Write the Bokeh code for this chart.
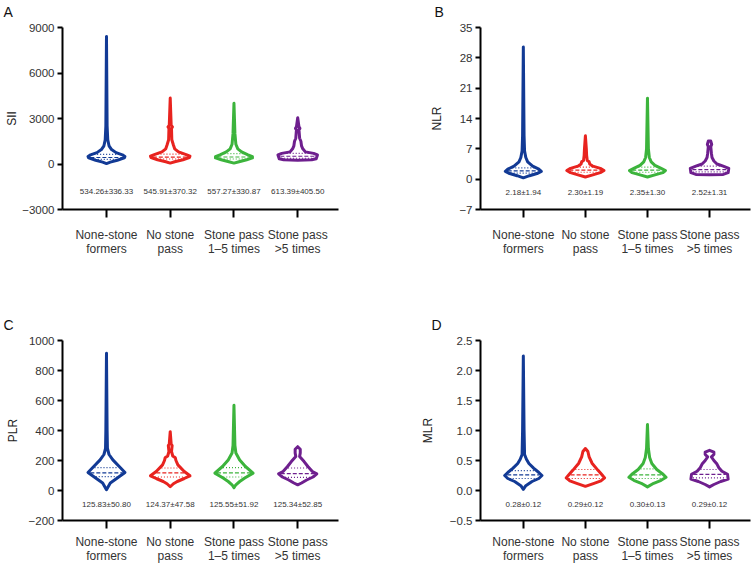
import numpy as np
from bokeh.plotting import figure
from bokeh.layouts import gridplot
from bokeh.models import FixedTicker, Range1d, Title
from bokeh.core.properties import value
from bokeh.embed import file_html
from bokeh.resources import INLINE

# ---------------- data ----------------
GROUPS = ["None-stone\nformers", "No stone\npass", "Stone pass\n1\u20135 times", "Stone pass\n>5 times"]
COLORS = ["#123a95", "#e8231f", "#3cb43c", "#6e1f8e"]

# Panel A : SII  (violin outline: value levels, relative half widths)
SII_LEVELS = [
    [30, 120, 250, 400, 500, 600, 750, 950, 1200, 1600, 2500, 8400],
    [60, 150, 280, 420, 520, 620, 800, 1000, 1250, 1600, 2350, 2450, 2550, 4350],
    [60, 150, 280, 400, 480, 600, 800, 1000, 1300, 2000, 4000],
    [250, 280, 350, 600, 700, 800, 1000, 1200, 1500, 1700, 2250, 2350, 2450, 3050],
]
SII_WIDTHS = [
    [0, 0.06, 0.17, 0.28, 0.29, 0.25, 0.15, 0.08, 0.04, 0.02, 0.01, 0],
    [0, 0.07, 0.2, 0.3, 0.31, 0.25, 0.13, 0.07, 0.05, 0.025, 0.02, 0.035, 0.015, 0],
    [0, 0.08, 0.2, 0.29, 0.29, 0.22, 0.12, 0.06, 0.03, 0.015, 0],
    [0, 0.22, 0.29, 0.31, 0.25, 0.12, 0.08, 0.06, 0.05, 0.03, 0.02, 0.035, 0.02, 0],
]
SII_QUART = [[310, 430, 640], [330, 450, 650], [330, 460, 680], [380, 510, 700]]
SII_TEXT = ["534.26\u00b1336.33", "545.91\u00b1370.32", "557.27\u00b1330.87", "613.39\u00b1405.50"]
SII_TICKS = [-3000, 0, 3000, 6000, 9000]

# Panel B : NLR
NLR_LEVELS = [
    [0.3, 0.8, 1.3, 1.8, 2.3, 3.0, 4.0, 5.0, 6.5, 10, 30.5],
    [0.5, 1.0, 1.5, 2.0, 2.5, 3.0, 3.5, 4.0, 4.3, 5.5, 7.0, 10.0],
    [0.5, 1.0, 1.5, 2.0, 2.5, 3.2, 4.0, 5.0, 7.0, 18.7],
    [1.0, 1.1, 1.5, 2.5, 3.0, 3.5, 4.2, 5.0, 6.0, 7.5, 8.0, 8.8],
]
NLR_WIDTHS = [
    [0, 0.1, 0.22, 0.29, 0.25, 0.15, 0.07, 0.04, 0.02, 0.012, 0],
    [0, 0.12, 0.24, 0.3, 0.24, 0.12, 0.07, 0.06, 0.03, 0.02, 0.015, 0],
    [0, 0.12, 0.25, 0.29, 0.22, 0.12, 0.06, 0.03, 0.015, 0],
    [0, 0.22, 0.3, 0.31, 0.22, 0.12, 0.07, 0.04, 0.03, 0.02, 0.035, 0.02],
]
NLR_QUART = [[1.4, 1.9, 2.6], [1.6, 2.1, 2.8], [1.6, 2.1, 2.8], [1.7, 2.2, 3.0]]
NLR_TEXT = ["2.18\u00b11.94", "2.30\u00b11.19", "2.35\u00b11.30", "2.52\u00b11.31"]
NLR_TICKS = [-7, 0, 7, 14, 21, 28, 35]

# Panel C : PLR
PLR_LEVELS = [
    [5, 20, 50, 83, 120, 160, 204, 240, 280, 400, 915],
    [25, 45, 60, 80, 98, 127, 171, 200, 218, 230, 260, 300, 310, 392],
    [18, 38, 60, 83, 116, 160, 204, 250, 300, 568],
    [38, 50, 70, 90, 111, 127, 160, 193, 226, 250, 275, 292],
]
PLR_WIDTHS = [
    [0, 0.02, 0.06, 0.17, 0.29, 0.2, 0.1, 0.04, 0.015, 0.01, 0],
    [0, 0.05, 0.11, 0.22, 0.31, 0.22, 0.12, 0.09, 0.08, 0.04, 0.02, 0.03, 0.015, 0],
    [0, 0.03, 0.09, 0.17, 0.3, 0.18, 0.09, 0.03, 0.015, 0],
    [0, 0.06, 0.14, 0.24, 0.3, 0.23, 0.16, 0.1, 0.03, 0.04, 0.04, 0],
]
PLR_QUART = [[92, 118, 152], [90, 118, 150], [90, 117, 152], [88, 112, 150]]
PLR_TEXT = ["125.83\u00b150.80", "124.37\u00b147.58", "125.55\u00b151.92", "125.34\u00b152.85"]
PLR_TICKS = [-200, 0, 200, 400, 600, 800, 1000]

# Panel D : MLR
MLR_LEVELS = [
    [0.02, 0.08, 0.15, 0.2, 0.25, 0.3, 0.37, 0.45, 0.52, 0.6, 1.0, 2.24],
    [0.07, 0.12, 0.16, 0.21, 0.27, 0.34, 0.45, 0.56, 0.65, 0.7],
    [0.06, 0.12, 0.17, 0.22, 0.28, 0.35, 0.45, 0.55, 0.7, 1.1],
    [0.06, 0.1, 0.15, 0.19, 0.27, 0.32, 0.38, 0.44, 0.5, 0.56, 0.6, 0.64, 0.67],
]
MLR_WIDTHS = [
    [0, 0.04, 0.14, 0.25, 0.3, 0.25, 0.17, 0.09, 0.05, 0.02, 0.012, 0],
    [0, 0.14, 0.25, 0.31, 0.26, 0.2, 0.11, 0.06, 0.04, 0],
    [0, 0.1, 0.22, 0.3, 0.24, 0.15, 0.07, 0.035, 0.015, 0],
    [0, 0.07, 0.18, 0.3, 0.29, 0.2, 0.15, 0.12, 0.07, 0.03, 0.07, 0.07, 0],
]
MLR_QUART = [[0.2, 0.26, 0.33], [0.2, 0.26, 0.35], [0.2, 0.26, 0.36], [0.21, 0.27, 0.35]]
MLR_TEXT = ["0.28\u00b10.12", "0.29\u00b10.12", "0.30\u00b10.13", "0.29\u00b10.12"]
MLR_TICKS = [-0.5, 0.0, 0.5, 1.0, 1.5, 2.0, 2.5]

FONT = "Liberation Sans"
W1, W2 = 417, 336
H1, H2 = 313, 253


def fmt(v, dec):
    s = f"{abs(v):.{dec}f}"
    return ("\u2212" + s) if v < 0 else s


def make_panel(letter, ylabel, levels, widths, quart, texts, ticks, text_y, dec,
               width, height, xr, mb_left, mb_right, mb_top, mb_bottom, lab_standoff,
               title_off, xlab_standoff):
    p = figure(width=width, height=height, output_backend="svg", toolbar_location=None,
               x_range=Range1d(*xr), y_range=Range1d(ticks[0], ticks[-1]),
               min_border_left=mb_left, min_border_right=mb_right,
               min_border_top=mb_top, min_border_bottom=mb_bottom)
    p.outline_line_color = None
    p.grid.grid_line_color = None
    p.background_fill_color = "white"

    # panel letter (default title) plus a small spacer title that lifts it
    p.title.text = letter
    p.title.text_font = FONT
    p.title.text_font_size = "14px"
    p.title.text_font_style = "normal"
    p.title.text_color = "#111111"
    p.title.align = "left"
    p.title.vertical_align = "bottom"
    p.title.offset = title_off
    p.title.standoff = 0
    spacer = Title(text=" ", text_font_size="6px", standoff=0)
    p.add_layout(spacer, "above")

    centers = [1, 2, 3, 4]
    for c, lv, wd, q, col in zip(centers, levels, widths, quart, COLORS):
        lv = np.asarray(lv, float)
        wd = np.asarray(wd, float)
        xs = np.concatenate([c + wd, (c - wd)[::-1]])
        ys = np.concatenate([lv, lv[::-1]])
        p.patch(xs, ys, fill_color="white", line_color=col, line_width=3, line_join="round")
        for k, qv in enumerate(q):
            hw = max(np.interp(qv, lv, wd) - 0.03, 0.02)
            p.line([c - hw, c + hw], [qv, qv], line_color=col, line_width=1.2,
                   line_dash="4 2" if k == 1 else "1 2")

    p.text(x=centers, y=[text_y] * 4, text=texts, text_align="center", text_baseline="middle",
           text_font=value(FONT), text_font_size="8px", text_color="#333333")

    # y axis
    ya = p.yaxis[0]
    ya.ticker = FixedTicker(ticks=ticks)
    ya.major_label_overrides = {t: fmt(t, dec) for t in ticks}
    ya.axis_label = ylabel
    ya.axis_label_text_font = FONT
    ya.axis_label_text_font_style = "normal"
    ya.axis_label_text_font_size = "12px"
    ya.axis_label_text_color = "#222222"
    ya.axis_label_standoff = lab_standoff
    ya.major_label_text_font = FONT
    ya.major_label_text_font_size = "11.5px"
    ya.major_label_text_color = "#333333"
    ya.major_label_standoff = 3
    ya.axis_line_width = 2
    ya.major_tick_line_width = 2
    ya.major_tick_out = 5
    ya.major_tick_in = 0
    ya.minor_tick_line_color = None

    # x axis
    xa = p.xaxis[0]
    xa.ticker = FixedTicker(ticks=centers)
    xa.major_label_overrides = {c: g for c, g in zip(centers, GROUPS)}
    xa.major_label_text_font = FONT
    xa.major_label_text_font_size = "12px"
    xa.major_label_text_color = "#333333"
    xa.major_label_text_line_height = 1.05
    xa.major_label_standoff = xlab_standoff
    xa.axis_line_width = 2
    xa.major_tick_line_width = 2
    xa.major_tick_out = 8
    xa.major_tick_in = 0
    xa.minor_tick_line_color = None
    return p


pA = make_panel("A", "SII", SII_LEVELS, SII_WIDTHS, SII_QUART, SII_TEXT, SII_TICKS, -1800, 0,
                W1, H1, (0.31, 4.64), 62, 79, 27, 104, 0, -59, 10)
pB = make_panel("B", "NLR", NLR_LEVELS, NLR_WIDTHS, NLR_QUART, NLR_TEXT, NLR_TICKS, -3.0, 0,
                W2, H1, (0.31, 4.66), 62, 3, 27, 104, 12, -46, 10)
pC = make_panel("C", "PLR", PLR_LEVELS, PLR_WIDTHS, PLR_QUART, PLR_TEXT, PLR_TICKS, -95, 0,
                W1, H2, (0.31, 4.64), 62, 79, 27, 45, 6, -59, 6)
pD = make_panel("D", "MLR", MLR_LEVELS, MLR_WIDTHS, MLR_QUART, MLR_TEXT, MLR_TICKS, -0.235, 1,
                W2, H2, (0.31, 4.66), 62, 3, 27, 45, 12, -49, 6)

grid = gridplot([[pA, pB], [pC, pD]], toolbar_location=None)
open("out.html", "w").write(file_html(grid, INLINE))
